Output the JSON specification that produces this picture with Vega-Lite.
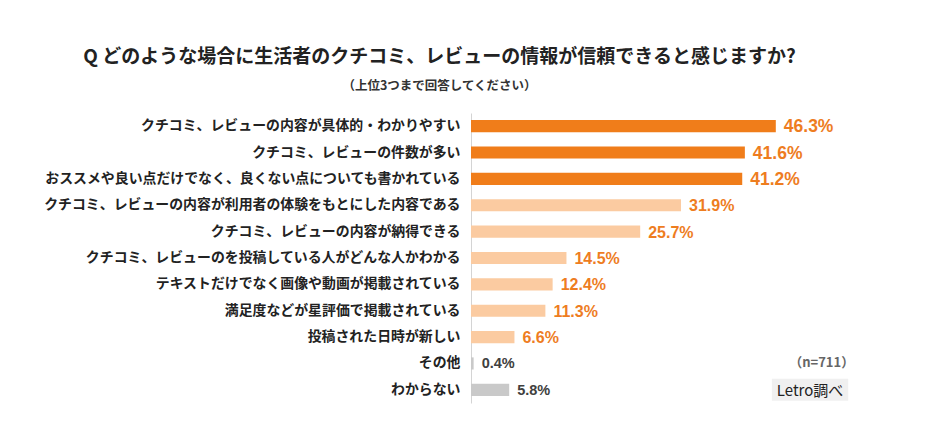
{
  "$schema": "https://vega.github.io/schema/vega-lite/v6.json",
  "width": 395,
  "height": 290,
  "autosize": {"type": "none"},
  "padding": {"left": 471, "top": 113, "right": 71, "bottom": 33},
  "background": "#ffffff",
  "config": {"view": {"stroke": null}},
  "title": {
    "text": "Q どのような場合に生活者のクチコミ、レビューの情報が信頼できると感じますか?",
    "subtitle": "（上位3つまで回答してください）",
    "anchor": "middle",
    "frame": "group",
    "dx": -229,
    "font": "Noto Sans CJK JP",
    "fontSize": 19,
    "fontWeight": "bold",
    "color": "#222222",
    "subtitleFont": "Noto Sans CJK JP",
    "subtitleFontSize": 12.5,
    "subtitleFontWeight": "bold",
    "subtitleColor": "#333333",
    "subtitlePadding": 13,
    "offset": 21
  },
  "data": {
    "values": [
      {"item": "クチコミ、レビューの内容が具体的・わかりやすい", "value": 0.463, "group": "top"},
      {"item": "クチコミ、レビューの件数が多い", "value": 0.416, "group": "top"},
      {"item": "おススメや良い点だけでなく、良くない点についても書かれている", "value": 0.412, "group": "top"},
      {"item": "クチコミ、レビューの内容が利用者の体験をもとにした内容である", "value": 0.319, "group": "mid"},
      {"item": "クチコミ、レビューの内容が納得できる", "value": 0.257, "group": "mid"},
      {"item": "クチコミ、レビューのを投稿している人がどんな人かわかる", "value": 0.145, "group": "mid"},
      {"item": "テキストだけでなく画像や動画が掲載されている", "value": 0.124, "group": "mid"},
      {"item": "満足度などが星評価で掲載されている", "value": 0.113, "group": "mid"},
      {"item": "投稿された日時が新しい", "value": 0.066, "group": "mid"},
      {"item": "その他", "value": 0.004, "group": "other"},
      {"item": "わからない", "value": 0.058, "group": "other"}
    ]
  },
  "resolve": {"scale": {"color": "independent"}},
  "encoding": {
    "y": {
      "field": "item",
      "type": "nominal",
      "sort": null,
      "scale": {"paddingInner": 0.54, "paddingOuter": 0.27},
      "axis": {
        "title": null,
        "ticks": false,
        "labelPadding": 11,
        "labelFont": "Noto Sans CJK JP",
        "labelFontSize": 13.9,
        "labelFontWeight": "bold",
        "labelColor": "#222222",
        "labelLimit": 500,
        "domainColor": "#d4d4d4",
        "domainWidth": 1,
        "grid": false
      }
    }
  },
  "layer": [
    {
      "mark": {"type": "bar"},
      "encoding": {
        "x": {
          "field": "value",
          "type": "quantitative",
          "scale": {"domain": [0, 0.6], "nice": false},
          "axis": null
        },
        "color": {
          "field": "group",
          "type": "nominal",
          "scale": {"domain": ["top", "mid", "other"], "range": ["#F07D1A", "#FBCBA1", "#C9C9C9"]},
          "legend": null
        }
      }
    },
    {
      "mark": {"type": "text", "align": "left", "baseline": "middle", "dx": 8, "dy": 1, "font": "Liberation Sans", "fontWeight": "bold"},
      "encoding": {
        "x": {"field": "value", "type": "quantitative"},
        "text": {"field": "value", "type": "quantitative", "format": ".1%"},
        "color": {
          "field": "group",
          "type": "nominal",
          "scale": {"domain": ["top", "mid", "other"], "range": ["#EE7D1F", "#EE7D1F", "#404040"]},
          "legend": null
        },
        "size": {
          "field": "group",
          "type": "nominal",
          "scale": {"domain": ["top", "mid", "other"], "range": [17.5, 14.5, 14.5]},
          "legend": null
        }
      }
    },
    {
      "data": {"values": [{"note": "（n=711）"}]},
      "mark": {"type": "text", "align": "right", "baseline": "middle", "font": "Noto Sans CJK JP", "fontSize": 13, "fontWeight": "bold", "color": "#666666"},
      "encoding": {
        "x": {"datum": 0.582, "type": "quantitative"},
        "y": {"datum": "その他", "type": "nominal"},
        "text": {"field": "note"}
      }
    },
    {
      "data": {"values": [{"note": "Letro調べ"}]},
      "mark": {"type": "bar", "height": 22, "color": "#F0F0F0"},
      "encoding": {
        "x": {"datum": 0.457, "type": "quantitative"},
        "x2": {"datum": 0.573},
        "y": {"datum": "わからない", "type": "nominal"}
      }
    },
    {
      "data": {"values": [{"note": "Letro調べ"}]},
      "mark": {"type": "text", "align": "center", "baseline": "middle", "font": "Noto Sans CJK JP", "fontSize": 15, "color": "#222222", "dy": 1},
      "encoding": {
        "x": {"datum": 0.515, "type": "quantitative"},
        "y": {"datum": "わからない", "type": "nominal"},
        "text": {"field": "note"}
      }
    }
  ]
}
